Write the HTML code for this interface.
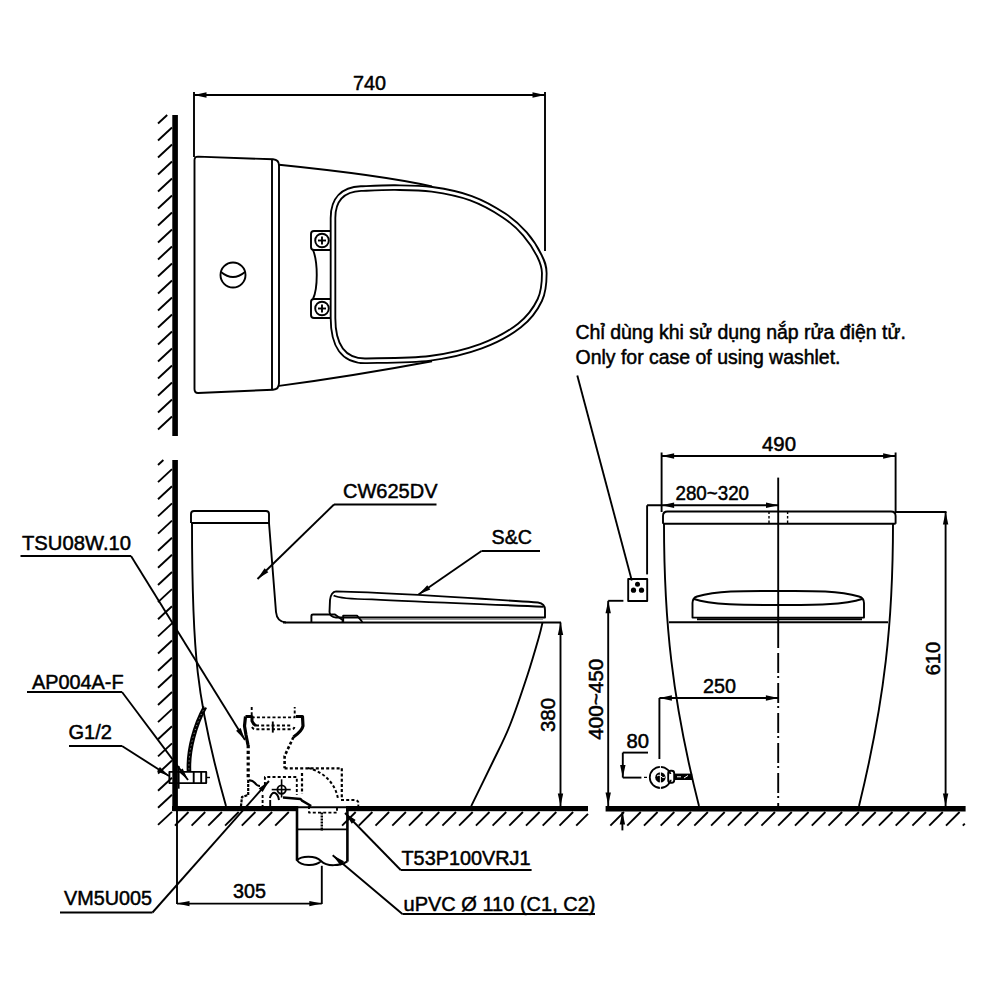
<!DOCTYPE html>
<html><head><meta charset="utf-8"><style>
html,body{margin:0;padding:0;background:#fff;}
svg{display:block;}
text{font-family:"Liberation Sans",sans-serif;fill:#000;stroke:#000;stroke-width:0.5px;}
</style></head><body>
<svg width="1000" height="1000" viewBox="0 0 1000 1000" fill="none" stroke="#000" stroke-linecap="butt" stroke-linejoin="round">
<g>
<rect x="172.3" y="115" width="5.6" height="321" fill="#000" stroke="none"/>
<line x1="158.0" y1="123.5" x2="167.2" y2="115.0" stroke-width="1.9" />
<line x1="158.0" y1="140.5" x2="172.0" y2="127.5" stroke-width="1.9" />
<line x1="158.0" y1="157.5" x2="172.0" y2="144.5" stroke-width="1.9" />
<line x1="158.0" y1="174.5" x2="172.0" y2="161.5" stroke-width="1.9" />
<line x1="158.0" y1="191.5" x2="172.0" y2="178.5" stroke-width="1.9" />
<line x1="158.0" y1="208.5" x2="172.0" y2="195.5" stroke-width="1.9" />
<line x1="158.0" y1="225.5" x2="172.0" y2="212.5" stroke-width="1.9" />
<line x1="158.0" y1="242.5" x2="172.0" y2="229.5" stroke-width="1.9" />
<line x1="158.0" y1="259.5" x2="172.0" y2="246.5" stroke-width="1.9" />
<line x1="158.0" y1="276.5" x2="172.0" y2="263.5" stroke-width="1.9" />
<line x1="158.0" y1="293.5" x2="172.0" y2="280.5" stroke-width="1.9" />
<line x1="158.0" y1="310.5" x2="172.0" y2="297.5" stroke-width="1.9" />
<line x1="158.0" y1="327.5" x2="172.0" y2="314.5" stroke-width="1.9" />
<line x1="158.0" y1="344.5" x2="172.0" y2="331.5" stroke-width="1.9" />
<line x1="158.0" y1="361.5" x2="172.0" y2="348.5" stroke-width="1.9" />
<line x1="158.0" y1="378.5" x2="172.0" y2="365.5" stroke-width="1.9" />
<line x1="158.0" y1="395.5" x2="172.0" y2="382.5" stroke-width="1.9" />
<line x1="158.0" y1="412.5" x2="172.0" y2="399.5" stroke-width="1.9" />
<line x1="158.0" y1="429.5" x2="172.0" y2="416.5" stroke-width="1.9" />
<line x1="194.0" y1="95.0" x2="545.0" y2="95.0" stroke-width="1.9" />
<line x1="194.0" y1="92.0" x2="194.0" y2="157.0" stroke-width="1.9" />
<line x1="545.0" y1="92.0" x2="545.0" y2="251.0" stroke-width="1.9" />
<polygon points="194.0,95.0 206.5,92.3 206.5,97.7" fill="#000" stroke="none"/>
<polygon points="545.0,95.0 532.5,97.7 532.5,92.3" fill="#000" stroke="none"/>
<text x="353" y="90" font-size="20" textLength="33" lengthAdjust="spacingAndGlyphs" >740</text>
<path d="M194.5,160 Q194.5,156.6 198,156.6 L273,159.3 Q279,159.8 279,165.5 L279,383 Q279,389.5 273,389.7 L198,393 Q194.5,393 194.5,389 Z" stroke-width="1.9" />
<line x1="272.0" y1="160.0" x2="272.0" y2="389.7" stroke-width="1.9" />
<path d="M279,164.8 C330,170 390,177 432,186.5" stroke-width="1.9" />
<path d="M279,385.9 C330,379 385,370 432,361.2" stroke-width="1.9" />
<path d="M333,318 L333,218 C333,199 343,189.5 361,188.6 C366.7,188.4 383.2,187.5 395.0,187.6 C406.8,187.7 419.3,187.5 432.0,189.3 C444.7,191.1 459.0,193.8 471.0,198.2 C483.0,202.6 495.0,209.5 504.0,215.5 C513.0,221.5 519.1,227.2 525.0,234.0 C530.9,240.8 536.3,249.5 539.5,256.0 C542.7,262.5 544.2,265.9 544.3,273.2 C544.3,280.5 543.9,291.3 539.8,300.0 C535.7,308.7 529.3,317.8 519.5,325.5 C509.7,333.2 495.9,340.8 481.0,346.3 C466.1,351.8 449.3,355.9 430.0,358.3 C410.7,360.7 375.8,360.4 365.0,360.8 C343,360.8 333,345 333,318 Z" stroke-width="6.5" />
<path d="M333,318 L333,218 C333,199 343,189.5 361,188.6 C366.7,188.4 383.2,187.5 395.0,187.6 C406.8,187.7 419.3,187.5 432.0,189.3 C444.7,191.1 459.0,193.8 471.0,198.2 C483.0,202.6 495.0,209.5 504.0,215.5 C513.0,221.5 519.1,227.2 525.0,234.0 C530.9,240.8 536.3,249.5 539.5,256.0 C542.7,262.5 544.2,265.9 544.3,273.2 C544.3,280.5 543.9,291.3 539.8,300.0 C535.7,308.7 529.3,317.8 519.5,325.5 C509.7,333.2 495.9,340.8 481.0,346.3 C466.1,351.8 449.3,355.9 430.0,358.3 C410.7,360.7 375.8,360.4 365.0,360.8 C343,360.8 333,345 333,318 Z" stroke-width="2.8" stroke="#fff"/>
<path d="M331,231.0 L314,231.0 Q311,231.0 311,234.0 L311,247.0 Q311,250.0 314,250.0 L331,250.0" stroke-width="1.9" />
<circle cx="322" cy="240.5" r="6.8" stroke-width="1.9"/>
<line x1="322.0" y1="236.5" x2="322.0" y2="244.5" stroke-width="1.9" />
<line x1="318.0" y1="240.5" x2="326.0" y2="240.5" stroke-width="1.9" />
<path d="M331,299.0 L314,299.0 Q311,299.0 311,302.0 L311,315.0 Q311,318.0 314,318.0 L331,318.0" stroke-width="1.9" />
<circle cx="322" cy="308.5" r="6.8" stroke-width="1.9"/>
<line x1="322.0" y1="304.5" x2="322.0" y2="312.5" stroke-width="1.9" />
<line x1="318.0" y1="308.5" x2="326.0" y2="308.5" stroke-width="1.9" />
<path d="M313,250 C318,262 318,288 313,299" stroke-width="1.9" />
<line x1="313.0" y1="250.0" x2="331.0" y2="250.0" stroke-width="1.9" />
<line x1="313.0" y1="299.0" x2="331.0" y2="299.0" stroke-width="1.9" />
<circle cx="233" cy="275" r="12.5" stroke-width="1.9"/>
<path d="M221,272 Q233,282 245,272" stroke-width="1.9" />
<rect x="172.3" y="460" width="5.6" height="351" fill="#000" stroke="none"/>
<line x1="158.0" y1="465.0" x2="163.4" y2="460.0" stroke-width="1.9" />
<line x1="158.0" y1="482.1" x2="172.0" y2="469.1" stroke-width="1.9" />
<line x1="158.0" y1="499.3" x2="172.0" y2="486.3" stroke-width="1.9" />
<line x1="158.0" y1="516.4" x2="172.0" y2="503.4" stroke-width="1.9" />
<line x1="158.0" y1="533.6" x2="172.0" y2="520.6" stroke-width="1.9" />
<line x1="158.0" y1="550.7" x2="172.0" y2="537.7" stroke-width="1.9" />
<line x1="158.0" y1="567.8" x2="172.0" y2="554.8" stroke-width="1.9" />
<line x1="158.0" y1="585.0" x2="172.0" y2="572.0" stroke-width="1.9" />
<line x1="158.0" y1="602.1" x2="172.0" y2="589.1" stroke-width="1.9" />
<line x1="158.0" y1="619.3" x2="172.0" y2="606.3" stroke-width="1.9" />
<line x1="158.0" y1="636.4" x2="172.0" y2="623.4" stroke-width="1.9" />
<line x1="158.0" y1="653.5" x2="172.0" y2="640.5" stroke-width="1.9" />
<line x1="158.0" y1="670.7" x2="172.0" y2="657.7" stroke-width="1.9" />
<line x1="158.0" y1="687.8" x2="172.0" y2="674.8" stroke-width="1.9" />
<line x1="158.0" y1="705.0" x2="172.0" y2="692.0" stroke-width="1.9" />
<line x1="158.0" y1="722.1" x2="172.0" y2="709.1" stroke-width="1.9" />
<line x1="158.0" y1="739.2" x2="172.0" y2="726.2" stroke-width="1.9" />
<line x1="158.0" y1="756.4" x2="172.0" y2="743.4" stroke-width="1.9" />
<line x1="158.0" y1="773.5" x2="172.0" y2="760.5" stroke-width="1.9" />
<line x1="158.0" y1="790.7" x2="172.0" y2="777.7" stroke-width="1.9" />
<line x1="158.0" y1="807.8" x2="172.0" y2="794.8" stroke-width="1.9" />
<line x1="158.0" y1="824.9" x2="172.0" y2="811.9" stroke-width="1.9" />
<rect x="172" y="806" width="125" height="5.2" fill="#000" stroke="none"/>
<rect x="346" y="806" width="242" height="5.2" fill="#000" stroke="none"/>
<line x1="188.5" y1="812.0" x2="174.9" y2="825.6" stroke-width="1.9" />
<line x1="205.2" y1="812.0" x2="191.6" y2="825.6" stroke-width="1.9" />
<line x1="221.9" y1="812.0" x2="208.3" y2="825.6" stroke-width="1.9" />
<line x1="238.7" y1="812.0" x2="225.1" y2="825.6" stroke-width="1.9" />
<line x1="255.4" y1="812.0" x2="241.8" y2="825.6" stroke-width="1.9" />
<line x1="272.1" y1="812.0" x2="258.5" y2="825.6" stroke-width="1.9" />
<line x1="288.8" y1="812.0" x2="275.2" y2="825.6" stroke-width="1.9" />
<line x1="355.7" y1="812.0" x2="342.1" y2="825.6" stroke-width="1.9" />
<line x1="372.4" y1="812.0" x2="358.8" y2="825.6" stroke-width="1.9" />
<line x1="389.1" y1="812.0" x2="375.5" y2="825.6" stroke-width="1.9" />
<line x1="405.9" y1="812.0" x2="392.3" y2="825.6" stroke-width="1.9" />
<line x1="422.6" y1="812.0" x2="409.0" y2="825.6" stroke-width="1.9" />
<line x1="439.3" y1="812.0" x2="425.7" y2="825.6" stroke-width="1.9" />
<line x1="456.0" y1="812.0" x2="442.4" y2="825.6" stroke-width="1.9" />
<line x1="472.7" y1="812.0" x2="459.1" y2="825.6" stroke-width="1.9" />
<line x1="489.5" y1="812.0" x2="475.9" y2="825.6" stroke-width="1.9" />
<line x1="506.2" y1="812.0" x2="492.6" y2="825.6" stroke-width="1.9" />
<line x1="522.9" y1="812.0" x2="509.3" y2="825.6" stroke-width="1.9" />
<line x1="539.6" y1="812.0" x2="526.0" y2="825.6" stroke-width="1.9" />
<line x1="556.3" y1="812.0" x2="542.7" y2="825.6" stroke-width="1.9" />
<line x1="573.1" y1="812.0" x2="559.5" y2="825.6" stroke-width="1.9" />
<line x1="576.2" y1="825.6" x2="588.0" y2="813.8" stroke-width="1.9" />
<path d="M191,523 L191,514 Q191,511 194,511 L266,511 Q269,511 269,514 L269,523" stroke-width="1.9" />
<line x1="191.0" y1="523.0" x2="269.0" y2="523.0" stroke-width="1.9" />
<path d="M192,523 C192,650 196,700 226,806" stroke-width="1.9" />
<path d="M269,523 L276,612 Q277,622 286,622.5" stroke-width="1.9" />
<line x1="283.0" y1="622.5" x2="561.0" y2="622.5" stroke-width="1.9" />
<path d="M542.5,622.5 C541.9,625.0 541.3,628.8 538.8,637.5 C536.3,646.2 532.3,660.4 527.5,675.0 C522.7,689.6 515.8,710.4 510.0,725.0 C504.2,739.6 499.0,749.0 492.5,762.5 C486.0,776.0 474.8,798.9 471.2,806.2" stroke-width="1.9" />
<path d="M336,591.4 C400,593 470,598 538,602.5 Q545,603.5 545,610 L545,617.5 L336,617.5 Q330,617 329.5,612 L330,600 Q331,592 336,591.4" stroke-width="1.9" />
<path d="M333.6,595.5 Q340,599 372,599.4 C420,602 480,604 543.6,606.7" stroke-width="1.9" />
<line x1="360.0" y1="619.5" x2="543.0" y2="619.5" stroke-width="1.2" stroke="#999"/>
<path d="M311.4,622 L311.4,616 Q311.4,614.5 313,614.5 L335,614.5 L342.6,620 L342.6,622" stroke-width="1.9" />
<path d="M343.2,622 L343.2,615.6 L357,615.6 L362.4,622" stroke-width="1.9" />
<line x1="560.5" y1="622.5" x2="560.5" y2="806.0" stroke-width="1.9" />
<polygon points="560.5,622.5 563.2,635.0 557.8,635.0" fill="#000" stroke="none"/>
<polygon points="560.5,806.0 557.8,793.5 563.2,793.5" fill="#000" stroke="none"/>
<text x="0" y="0" font-size="20" text-anchor="middle" textLength="34" lengthAdjust="spacingAndGlyphs" transform="translate(555,715) rotate(-90)">380</text>
<path d="M251.7,707 L251.7,717.4 L294.7,717.4 L294.7,707" stroke-width="1.9" stroke-dasharray="3,2.2"/>
<path d="M245.5,716.5 L252,716.5 L252,721 Q253,724 256,725.6" stroke-width="3.0" />
<path d="M245.5,716.5 L244.5,726 L246,735 L248,745" stroke-width="3.2" />
<path d="M296,716.5 L302.5,716.5 L303,726 Q302,731 293.5,737" stroke-width="3.2" />
<path d="M256,725.6 L292,725.6" stroke-width="2.0" stroke-dasharray="3,2.2"/>
<path d="M252,727 Q253,729.3 256,729.3 L291,729.3 Q294,729.3 294.5,727" stroke-width="1.9" stroke-dasharray="3,2.2"/>
<line x1="272.8" y1="721.5" x2="272.8" y2="732.6" stroke-width="1.9" />
<path d="M248.2,745 L248.2,780" stroke-width="3.2" stroke-dasharray="3.2,2.6"/>
<path d="M248.2,780 L248.2,795 L242,797 L241,806" stroke-width="2.2" stroke-dasharray="3,1"/>
<path d="M249,780.5 Q252,780 255,783 Q257,786 260,786" stroke-width="2.2" />
<path d="M293.5,737 L284.6,756 L284.6,768.3" stroke-width="2.6" stroke-dasharray="3,2.2"/>
<path d="M284.6,768.3 L341.8,768.3 L341.8,799" stroke-width="2.2" stroke-dasharray="3,2.2"/>
<path d="M308,768 C325,772 336,785 338,799" stroke-width="2.0" stroke-dasharray="3,2.2"/>
<path d="M264.9,785 L264.9,777 L296.8,777 L296.8,795" stroke-width="1.9" stroke-dasharray="3,2.2"/>
<line x1="302.0" y1="773.0" x2="302.0" y2="794.0" stroke-width="2.2" stroke-dasharray="3,2.2"/>
<circle cx="281.6" cy="789.6" r="4.2" stroke-width="1.9"/>
<line x1="271.7" y1="789.6" x2="290.7" y2="789.6" stroke-width="1.6" />
<line x1="281.6" y1="779.3" x2="281.6" y2="797.5" stroke-width="1.6" />
<path d="M269.8,798 Q272,792 275,793 Q278,794 279,800" stroke-width="2.0" />
<line x1="262.6" y1="795.0" x2="262.6" y2="806.0" stroke-width="1.9" stroke-dasharray="3,2"/>
<line x1="270.2" y1="800.0" x2="270.2" y2="806.0" stroke-width="1.9" />
<path d="M283,797.5 L300.6,799 L302,800.6 L311.2,806" stroke-width="2.4" />
<path d="M341,800 L356,800 Q360,802 358,806" stroke-width="2.0" stroke-dasharray="3,2.2"/>
<path d="M297,806 L297,860.5" stroke-width="2.6" />
<path d="M347.4,806 L347.4,861.6" stroke-width="2.6" />
<path d="M297,860.3 C301,856 315,855 321,861 C315,867 301,866 297,860.3 Z" stroke-width="1.9" />
<path d="M321,861 C327,867 340,866 347.4,861.4" stroke-width="1.9" />
<line x1="297.0" y1="829.4" x2="347.0" y2="829.4" stroke-width="1.9" />
<path d="M309,806 L309,812.6 L337,812.6 L337,806" stroke-width="1.9" stroke-dasharray="3,2.2"/>
<line x1="321.8" y1="812.6" x2="321.8" y2="831.0" stroke-width="2.4" stroke-dasharray="2,1"/>
<line x1="297.0" y1="807.2" x2="347.0" y2="807.2" stroke-width="2.0" />
<path d="M205,707 C195,725 188,750 189,771" stroke-width="4.6" />
<path d="M205,707 C195,725 188,750 189,771" stroke-width="0.7" stroke="#fff" stroke-dasharray="1,3"/>
<rect x="169.4" y="771.9" width="36.8" height="11.2" rx="0" stroke-width="1.9" />
<line x1="178.7" y1="766.0" x2="178.7" y2="788.7" stroke-width="1.8" />
<line x1="193.7" y1="772.0" x2="193.7" y2="783.0" stroke-width="1.9" />
<line x1="201.2" y1="772.0" x2="201.2" y2="783.0" stroke-width="1.9" />
<line x1="206.0" y1="777.5" x2="210.0" y2="777.5" stroke-width="1.4" />
<line x1="177.0" y1="811.0" x2="177.0" y2="904.0" stroke-width="1.9" />
<line x1="321.8" y1="865.8" x2="321.8" y2="904.0" stroke-width="1.9" />
<line x1="177.0" y1="903.6" x2="321.8" y2="903.6" stroke-width="1.9" />
<polygon points="177.0,903.6 189.5,900.9 189.5,906.3" fill="#000" stroke="none"/>
<polygon points="321.8,903.6 309.3,906.3 309.3,900.9" fill="#000" stroke="none"/>
<text x="233" y="898" font-size="20" textLength="33" lengthAdjust="spacingAndGlyphs" >305</text>
<text x="22" y="550" font-size="20" textLength="109" lengthAdjust="spacingAndGlyphs" >TSU08W.10</text>
<line x1="20.5" y1="556.0" x2="131.0" y2="556.0" stroke-width="1.9" />
<line x1="131.0" y1="556.0" x2="245.0" y2="740.0" stroke-width="1.9" />
<polygon points="245.0,740.0 236.1,730.8 240.7,728.0" fill="#000" stroke="none"/>
<text x="32" y="689" font-size="20" textLength="91.5" lengthAdjust="spacingAndGlyphs" >AP004A-F</text>
<line x1="27.0" y1="692.0" x2="122.0" y2="692.0" stroke-width="1.9" />
<line x1="122.0" y1="692.0" x2="188.0" y2="780.0" stroke-width="1.9" />
<polygon points="188.0,780.0 178.3,771.6 182.7,768.4" fill="#000" stroke="none"/>
<text x="68.5" y="739" font-size="20" textLength="43.5" lengthAdjust="spacingAndGlyphs" >G1/2</text>
<line x1="69.0" y1="746.0" x2="122.0" y2="746.0" stroke-width="1.9" />
<line x1="122.0" y1="746.0" x2="169.0" y2="776.0" stroke-width="1.9" />
<polygon points="169.0,776.0 157.0,771.6 159.9,767.0" fill="#000" stroke="none"/>
<text x="64" y="905" font-size="20" textLength="88" lengthAdjust="spacingAndGlyphs" >VM5U005</text>
<line x1="60.0" y1="912.5" x2="152.5" y2="912.5" stroke-width="1.9" />
<line x1="152.5" y1="912.5" x2="269.0" y2="781.0" stroke-width="1.9" />
<polygon points="269.0,781.0 262.7,792.1 258.7,788.6" fill="#000" stroke="none"/>
<text x="343" y="497.5" font-size="20" textLength="94.5" lengthAdjust="spacingAndGlyphs" >CW625DV</text>
<line x1="334.0" y1="504.5" x2="436.5" y2="504.5" stroke-width="1.9" />
<line x1="334.0" y1="504.5" x2="257.5" y2="579.0" stroke-width="1.9" />
<polygon points="257.5,579.0 264.6,568.3 268.3,572.2" fill="#000" stroke="none"/>
<text x="491.5" y="543.5" font-size="20" textLength="40.5" lengthAdjust="spacingAndGlyphs" >S&amp;C</text>
<line x1="481.5" y1="551.0" x2="540.0" y2="551.0" stroke-width="1.9" />
<line x1="481.5" y1="551.0" x2="418.5" y2="594.5" stroke-width="1.9" />
<polygon points="418.5,594.5 427.3,585.2 430.3,589.6" fill="#000" stroke="none"/>
<text x="401.5" y="865" font-size="20" textLength="129" lengthAdjust="spacingAndGlyphs" >T53P100VRJ1</text>
<line x1="400.7" y1="870.0" x2="531.6" y2="870.0" stroke-width="1.9" />
<line x1="400.7" y1="870.0" x2="345.0" y2="813.0" stroke-width="1.9" />
<polygon points="345.0,813.0 355.7,820.1 351.8,823.8" fill="#000" stroke="none"/>
<text x="403.5" y="911" font-size="20" textLength="192" lengthAdjust="spacingAndGlyphs" >uPVC Ø 110 (C1, C2)</text>
<line x1="402.4" y1="914.0" x2="595.0" y2="914.0" stroke-width="1.9" />
<line x1="402.4" y1="914.0" x2="332.7" y2="855.3" stroke-width="1.9" />
<polygon points="332.7,855.3 344.0,861.3 340.5,865.4" fill="#000" stroke="none"/>
<rect x="605.6" y="806" width="360" height="5.5" fill="#000" stroke="none"/>
<line x1="624.0" y1="812.0" x2="610.4" y2="825.6" stroke-width="1.9" />
<line x1="640.8" y1="812.0" x2="627.2" y2="825.6" stroke-width="1.9" />
<line x1="657.6" y1="812.0" x2="644.0" y2="825.6" stroke-width="1.9" />
<line x1="674.3" y1="812.0" x2="660.7" y2="825.6" stroke-width="1.9" />
<line x1="691.1" y1="812.0" x2="677.5" y2="825.6" stroke-width="1.9" />
<line x1="707.9" y1="812.0" x2="694.3" y2="825.6" stroke-width="1.9" />
<line x1="724.7" y1="812.0" x2="711.1" y2="825.6" stroke-width="1.9" />
<line x1="741.5" y1="812.0" x2="727.9" y2="825.6" stroke-width="1.9" />
<line x1="758.2" y1="812.0" x2="744.6" y2="825.6" stroke-width="1.9" />
<line x1="775.0" y1="812.0" x2="761.4" y2="825.6" stroke-width="1.9" />
<line x1="791.8" y1="812.0" x2="778.2" y2="825.6" stroke-width="1.9" />
<line x1="808.6" y1="812.0" x2="795.0" y2="825.6" stroke-width="1.9" />
<line x1="825.4" y1="812.0" x2="811.8" y2="825.6" stroke-width="1.9" />
<line x1="842.1" y1="812.0" x2="828.5" y2="825.6" stroke-width="1.9" />
<line x1="858.9" y1="812.0" x2="845.3" y2="825.6" stroke-width="1.9" />
<line x1="875.7" y1="812.0" x2="862.1" y2="825.6" stroke-width="1.9" />
<line x1="892.5" y1="812.0" x2="878.9" y2="825.6" stroke-width="1.9" />
<line x1="909.3" y1="812.0" x2="895.7" y2="825.6" stroke-width="1.9" />
<line x1="926.0" y1="812.0" x2="912.4" y2="825.6" stroke-width="1.9" />
<line x1="942.8" y1="812.0" x2="929.2" y2="825.6" stroke-width="1.9" />
<line x1="959.6" y1="812.0" x2="946.0" y2="825.6" stroke-width="1.9" />
<line x1="962.8" y1="825.6" x2="964.8" y2="823.6" stroke-width="1.9" />
<line x1="622.4" y1="812.0" x2="622.4" y2="830.4" stroke-width="1.9" />
<polygon points="622.4,812.0 625.1,824.5 619.7,824.5" fill="#000" stroke="none"/>
<line x1="608.2" y1="600.8" x2="608.2" y2="806.0" stroke-width="1.9" />
<line x1="608.2" y1="600.8" x2="623.4" y2="600.8" stroke-width="1.9" />
<polygon points="608.2,600.8 610.9,613.3 605.5,613.3" fill="#000" stroke="none"/>
<polygon points="608.2,805.0 605.5,792.5 610.9,792.5" fill="#000" stroke="none"/>
<text x="0" y="0" font-size="20" text-anchor="middle" textLength="81" lengthAdjust="spacingAndGlyphs" transform="translate(603,699.3) rotate(-90)">400~450</text>
<rect x="628.2" y="579" width="19" height="22" rx="0" stroke-width="1.9" />
<circle cx="637.5" cy="584.3" r="2.5" fill="#000" stroke="none"/>
<circle cx="633.5" cy="590.2" r="2.6" fill="#000" stroke="none"/>
<circle cx="641.5" cy="590.2" r="2.6" fill="#000" stroke="none"/>
<line x1="577.3" y1="375.6" x2="631.8" y2="580.4" stroke-width="1.9" />
<line x1="647.1" y1="505.3" x2="647.1" y2="574.4" stroke-width="1.9" />
<line x1="647.1" y1="505.3" x2="778.5" y2="505.3" stroke-width="1.9" />
<polygon points="661.6,505.3 674.1,502.6 674.1,508.0" fill="#000" stroke="none"/>
<polygon points="778.5,505.3 766.0,508.0 766.0,502.6" fill="#000" stroke="none"/>
<text x="675.5" y="500" font-size="20" textLength="73.5" lengthAdjust="spacingAndGlyphs" >280~320</text>
<line x1="661.6" y1="456.0" x2="895.6" y2="456.0" stroke-width="1.9" />
<line x1="661.6" y1="452.5" x2="661.6" y2="512.0" stroke-width="1.9" />
<line x1="895.6" y1="452.5" x2="895.6" y2="512.0" stroke-width="1.9" />
<polygon points="661.6,456.0 674.1,453.3 674.1,458.7" fill="#000" stroke="none"/>
<polygon points="895.6,456.0 883.1,458.7 883.1,453.3" fill="#000" stroke="none"/>
<text x="762" y="450.6" font-size="20" textLength="34" lengthAdjust="spacingAndGlyphs" >490</text>
<path d="M663,523.7 L663,516 Q663,511.5 667.5,511.5 L891,511.5 Q895.6,511.5 895.6,516 L895.6,523.7" stroke-width="1.9" />
<line x1="663.0" y1="523.7" x2="895.6" y2="523.7" stroke-width="1.9" />
<line x1="769.0" y1="511.5" x2="769.0" y2="523.7" stroke-width="1.4" stroke-dasharray="2.5,2"/>
<line x1="787.6" y1="511.5" x2="787.6" y2="523.7" stroke-width="1.4" stroke-dasharray="2.5,2"/>
<path d="M664,523.7 C664,620 672,700 699,806" stroke-width="1.9" />
<path d="M893,523.7 C893,620 885,700 859,806" stroke-width="1.9" />
<line x1="895.0" y1="512.0" x2="946.5" y2="512.0" stroke-width="1.9" />
<line x1="945.6" y1="512.0" x2="945.6" y2="806.0" stroke-width="1.9" />
<polygon points="945.6,512.0 948.3,524.5 942.9,524.5" fill="#000" stroke="none"/>
<polygon points="945.6,806.0 942.9,793.5 948.3,793.5" fill="#000" stroke="none"/>
<text x="0" y="0" font-size="20" text-anchor="middle" textLength="33.5" lengthAdjust="spacingAndGlyphs" transform="translate(940,658.6) rotate(-90)">610</text>
<path d="M692.5,617.6 L692.5,603 Q692.5,598 697,596.5 C720,590 750,591 778,591 C806,591 836,590 859,596.5 Q864,598 864,603 L864,617.6 Z" stroke-width="1.9" />
<path d="M694,599 C710,605 745,605 778,605 C811,605 846,605 862,599" stroke-width="1.9" />
<line x1="697.0" y1="619.2" x2="862.0" y2="619.2" stroke-width="1.9" />
<line x1="669.0" y1="622.2" x2="888.0" y2="622.2" stroke-width="1.9" />
<line x1="778.2" y1="477.6" x2="778.2" y2="646.0" stroke-width="1.9" />
<line x1="778.2" y1="646.0" x2="778.2" y2="806.0" stroke-width="1.9" stroke-dasharray="2,5,20,3"/>
<line x1="659.4" y1="698.0" x2="778.4" y2="698.0" stroke-width="1.9" />
<polygon points="659.4,698.0 671.9,695.3 671.9,700.7" fill="#000" stroke="none"/>
<polygon points="778.4,698.0 765.9,700.7 765.9,695.3" fill="#000" stroke="none"/>
<line x1="659.4" y1="698.0" x2="659.4" y2="759.0" stroke-width="1.9" />
<text x="703" y="693" font-size="20" textLength="33" lengthAdjust="spacingAndGlyphs" >250</text>
<text x="626.5" y="748" font-size="20" textLength="22.5" lengthAdjust="spacingAndGlyphs" >80</text>
<line x1="622.8" y1="752.6" x2="648.0" y2="752.6" stroke-width="1.9" />
<line x1="622.8" y1="752.6" x2="622.8" y2="777.6" stroke-width="1.9" />
<polygon points="622.8,777.6 620.1,765.1 625.5,765.1" fill="#000" stroke="none"/>
<line x1="622.8" y1="777.6" x2="641.4" y2="777.6" stroke-width="1.9" />
<circle cx="660.4" cy="777.4" r="10.6" stroke-width="1.8"/>
<circle cx="660.4" cy="777.4" r="5.2" fill="#000" stroke="none"/>
<path d="M657,776 Q659,774 661,776 Q663,779 665,777" stroke-width="1.0" stroke="#fff"/>
<line x1="644.0" y1="777.4" x2="650.0" y2="777.4" stroke-width="1.4" stroke-dasharray="3,2"/>
<line x1="660.4" y1="765.0" x2="660.4" y2="790.0" stroke-width="1.0" stroke="#fff"/>
<rect x="668.2" y="770.8" width="6" height="12" rx="2.5" stroke-width="1.9" />
<rect x="669.5" y="774" width="3.4" height="5.8" rx="0" stroke-width="0" fill="#fff" stroke="none"/>
<rect x="674.2" y="773.6" width="18" height="6.4" fill="#000" stroke="none"/>
<path d="M677,776.8 L681,776.8 M684,778 L688,775.5" stroke-width="1.0" stroke="#fff"/>
<text x="575.5" y="339" font-size="19.8" textLength="330.5" lengthAdjust="spacingAndGlyphs" >Chỉ dùng khi sử dụng nắp rửa điện tử.</text>
<text x="575.5" y="364" font-size="19.8" textLength="265" lengthAdjust="spacingAndGlyphs" >Only for case of using washlet.</text>
</g>
</svg>
</body></html>
